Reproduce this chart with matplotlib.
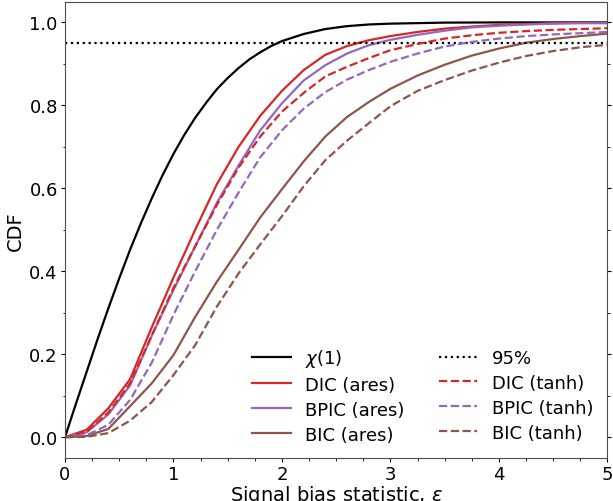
import matplotlib
matplotlib.use("Agg")
import matplotlib.pyplot as plt
from matplotlib.ticker import MultipleLocator

# chi(1) reference CDF
chi_x = [0, 0.1, 0.2, 0.3, 0.4, 0.5, 0.6, 0.7, 0.8, 0.9, 1.0, 1.1, 1.2, 1.3, 1.4,
         1.5, 1.6, 1.7, 1.8, 1.9, 2.0, 2.2, 2.4, 2.6, 2.8, 3.0, 3.5, 4.0, 5.0]
chi_y = [0, 0.080, 0.158, 0.236, 0.311, 0.383, 0.452, 0.516, 0.576, 0.632, 0.683,
         0.729, 0.770, 0.806, 0.839, 0.866, 0.890, 0.911, 0.928, 0.943, 0.955,
         0.972, 0.984, 0.991, 0.995, 0.997, 0.9995, 1.0, 1.0]

# empirical CDFs
eps = [0, 0.2, 0.4, 0.6, 0.8, 1.0, 1.2, 1.4, 1.6, 1.8, 2.0, 2.2, 2.4, 2.6, 2.8,
       3.0, 3.25, 3.5, 3.75, 4.0, 4.25, 4.5, 4.75, 5.0]
dic_ares = [0, 0.018, 0.07, 0.14, 0.265, 0.385, 0.50, 0.61, 0.70, 0.775, 0.835,
            0.885, 0.922, 0.943, 0.957, 0.967, 0.977, 0.985, 0.990, 0.994, 0.996,
            0.998, 0.999, 0.999]
bpic_ares = [0, 0.012, 0.055, 0.125, 0.245, 0.355, 0.46, 0.565, 0.655, 0.74,
             0.805, 0.86, 0.897, 0.925, 0.945, 0.958, 0.970, 0.980, 0.988, 0.992,
             0.995, 0.997, 0.998, 0.998]
bic_ares = [0, 0.003, 0.02, 0.075, 0.13, 0.198, 0.29, 0.375, 0.452, 0.53, 0.598,
            0.665, 0.725, 0.772, 0.808, 0.84, 0.872, 0.898, 0.92, 0.937, 0.951,
            0.96, 0.967, 0.973]
dic_tanh = [0, 0.013, 0.06, 0.13, 0.245, 0.36, 0.46, 0.56, 0.65, 0.725, 0.785,
            0.83, 0.87, 0.893, 0.914, 0.933, 0.948, 0.961, 0.969, 0.975, 0.979,
            0.982, 0.984, 0.986]
bpic_tanh = [0, 0.005, 0.03, 0.09, 0.18, 0.295, 0.40, 0.50, 0.59, 0.675, 0.74,
             0.792, 0.832, 0.862, 0.885, 0.905, 0.925, 0.942, 0.953, 0.961, 0.967,
             0.971, 0.974, 0.977]
bic_tanh = [0, 0.001, 0.01, 0.04, 0.085, 0.15, 0.222, 0.315, 0.395, 0.465, 0.533,
            0.605, 0.668, 0.715, 0.757, 0.798, 0.835, 0.861, 0.884, 0.903, 0.919,
            0.931, 0.94, 0.946]
level = 0.95

plt.rcParams['font.family'] = ['DejaVu Sans']
plt.rcParams['font.size'] = 12

fig = plt.figure(figsize=(6.13, 5.02), dpi=100)
ax = fig.add_axes([0.106, 0.0857, 0.885, 0.909])

red, purple, brown = '#d62728', '#9467bd', '#8c564b'
lw = 1.6
h1, = ax.plot(chi_x, chi_y, color='black', lw=lw, label=r'$\chi(1)$')
h2, = ax.plot(eps, dic_ares, color=red, lw=lw, label='DIC (ares)')
h3, = ax.plot(eps, bpic_ares, color=purple, lw=lw, label='BPIC (ares)')
h4, = ax.plot(eps, bic_ares, color=brown, lw=lw, label='BIC (ares)')
h5 = ax.axhline(level, color='black', lw=lw, ls=':', label='95%')
h6, = ax.plot(eps, dic_tanh, color=red, lw=lw, ls='--', label='DIC (tanh)')
h7, = ax.plot(eps, bpic_tanh, color=purple, lw=lw, ls='--', label='BPIC (tanh)')
h8, = ax.plot(eps, bic_tanh, color=brown, lw=lw, ls='--', label='BIC (tanh)')

ax.set_xlim(0, 5)
ax.set_ylim(-0.05, 1.05)
ax.xaxis.set_major_locator(MultipleLocator(1))
ax.xaxis.set_minor_locator(MultipleLocator(0.25))
ax.yaxis.set_major_locator(MultipleLocator(0.2))
ax.yaxis.set_minor_locator(MultipleLocator(0.1))
ax.tick_params(which='both', direction='out', right=True, top=False,
               labelsize=13)
ax.tick_params(which='major', length=2.8, pad=2.4)
ax.tick_params(which='minor', length=1.8)
for s in ax.spines.values():
    s.set_color('0.3')

ax.set_xlabel(r'Signal bias statistic, $\epsilon$', fontsize=14, labelpad=0)
ax.set_ylabel('CDF', fontsize=14, labelpad=3)

ax.legend(handles=[h1, h2, h3, h4, h5, h6, h7, h8], ncol=2, frameon=False,
          loc='lower right', fontsize=13, handlelength=2.15,
          handletextpad=0.78, columnspacing=1.9, labelspacing=0.38,
          borderaxespad=0.4)

fig.savefig('out.png', dpi=100)
